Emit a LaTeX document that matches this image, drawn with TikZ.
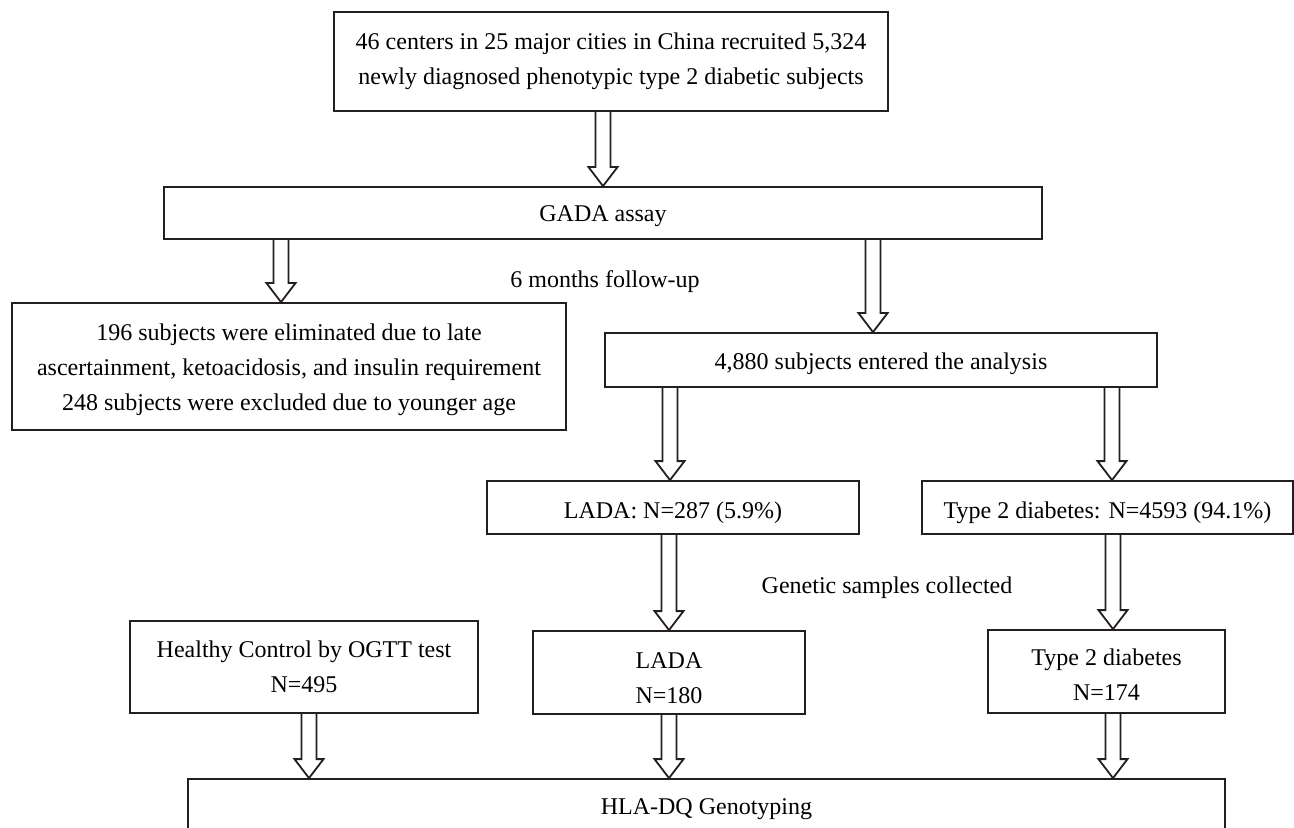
\documentclass[tikz,border=0pt]{standalone}
\usepackage{fontspec}
\setmainfont{Liberation Serif}
\usepackage{tikz}
\usetikzlibrary{calc}
\definecolor{boxline}{RGB}{35,31,32}

% invisible strut on a first line, lowers the text block in its box
\newcommand{\lowerby}[1]{\rule{0pt}{#1}}

% hollow block arrow: x position, source node, target node
\newcommand{\flowarrow}[3]{%
  \path (#1,0 |- #2.south) coordinate (fa-s) (#1,0 |- #3.north) coordinate (fa-t);
  \draw[blockarr] ($(fa-s)+(-7.5,0)$) -- ($(fa-t)+(-7.5,-19)$) -- ($(fa-t)+(-14.5,-19)$)
    -- (fa-t) -- ($(fa-t)+(14.5,-19)$) -- ($(fa-t)+(7.5,-19)$) -- ($(fa-s)+(7.5,0)$);
}

\begin{document}
\begin{tikzpicture}[x=0.5pt,y=-0.5pt,
  font=\fontsize{12}{17.5}\selectfont,
  box/.style={draw=boxline,line width=0.9pt,align=center,inner sep=0pt},
  oneline/.style={text height=#1,text depth=0pt},
  blockarr/.style={draw=boxline,line width=0.9pt,line join=miter},
  note/.style={align=center,inner sep=0pt,anchor=base}]
  \useasboundingbox (0,0) rectangle (1294,828);
  \clip (0,0) rectangle (1294,828);

  % screening stage
  \node[box,minimum width=277pt,minimum height=49.5pt] (recruit) at (611,61.5)
    {46 centers in 25 major cities in China recruited 5,324\\newly diagnosed phenotypic type 2 diabetic subjects};
  \node[box,oneline=9pt,minimum width=439pt,minimum height=26pt] (gada) at (603,213) {GADA assay};
  \node[note] (followup) at (605,288) {6 months follow-up};
  \node[box,minimum width=277pt,minimum height=63.5pt] (excluded) at (289,366.5)
    {\lowerby{11.2pt}196 subjects were eliminated due to late\\ascertainment, ketoacidosis, and insulin requirement\\248 subjects were excluded due to younger age};
  \node[box,oneline=9pt,minimum width=276pt,minimum height=27pt] (analysis) at (881,360)
    {4,880 subjects entered the analysis};

  % classification
  \node[box,oneline=10.5pt,minimum width=186pt,minimum height=26.5pt] (lada) at (673,507.5) {LADA: N=287 (5.9\%)};
  \node[box,oneline=10.5pt,minimum width=185.5pt,minimum height=26.5pt] (tdm) at (1107.5,507.5) {Type 2 diabetes: N=4593 (94.1\%)};
  \node[note] (genetic) at (887,593) {Genetic samples collected};

  % genotyped groups
  \node[box,minimum width=174pt,minimum height=46pt] (control) at (304,667) {Healthy Control by OGTT test\\N=495};
  \node[box,minimum width=136pt,minimum height=41.5pt] (ladags) at (669,672.5) {\lowerby{13.4pt}LADA\\N=180};
  \node[box,minimum width=118.5pt,minimum height=41.5pt] (tdmgs) at (1106.5,671.5) {\lowerby{11.2pt}Type 2 diabetes\\N=174};
  \node[box,oneline=7pt,minimum width=518.5pt,minimum height=28pt] (hla) at (706.5,807) {HLA-DQ Genotyping};

  % arrows
  \flowarrow{603}{recruit}{gada}
  \flowarrow{281}{gada}{excluded}
  \flowarrow{873}{gada}{analysis}
  \flowarrow{670}{analysis}{lada}
  \flowarrow{1112}{analysis}{tdm}
  \flowarrow{669}{lada}{ladags}
  \flowarrow{1113}{tdm}{tdmgs}
  \flowarrow{309}{control}{hla}
  \flowarrow{669}{ladags}{hla}
  \flowarrow{1113}{tdmgs}{hla}
\end{tikzpicture}
\end{document}
